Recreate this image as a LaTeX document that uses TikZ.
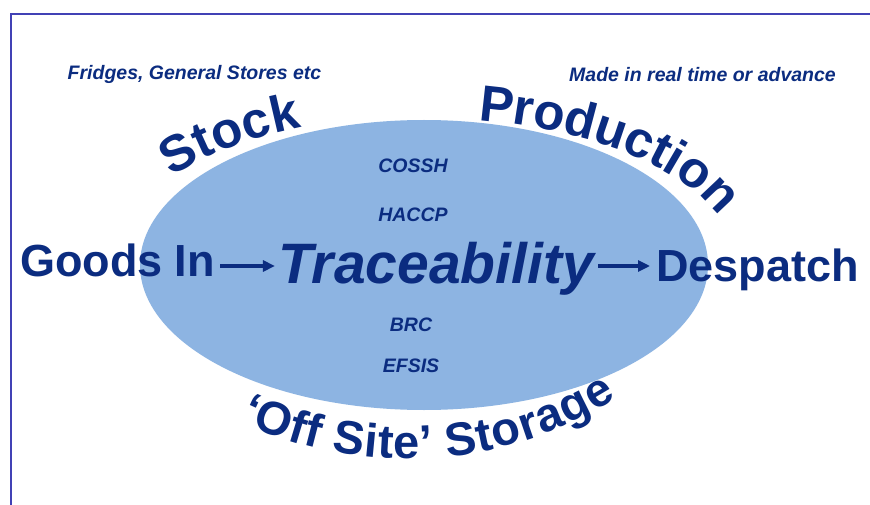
\documentclass[tikz,border=0pt]{standalone}
\usepackage{fontspec}
\setmainfont{Liberation Sans}
\usetikzlibrary{decorations.text,arrows.meta}
\definecolor{navy}{HTML}{0B2C80}
\definecolor{ellfill}{HTML}{8DB4E2}
\definecolor{framecol}{HTML}{4141B5}
\begin{document}
\begin{tikzpicture}[x=1pt,y=1pt,
  lbl/.style={inner sep=0pt,text=navy,font=\bfseries\itshape\fontsize{19.5}{21}\selectfont},
  big/.style={inner sep=0pt,text=navy,font=\bfseries\fontsize{45}{50}\selectfont},
  arr/.style={draw=navy,line width=3.4pt,-{Triangle[length=12pt,width=11pt]}},
  curved/.style 2 args={decorate,decoration={text effects along path,text={#2},
     text effects/.cd, text along path, fit text to path,
     characters={inner sep=0pt,anchor=base,text=navy,font=\bfseries\fontsize{#1}{#1}\selectfont}}}]
\useasboundingbox (0,0) rectangle (870,-505);
\fill[white] (0,0) rectangle (870,-505);
\draw[framecol,line width=2pt] (11,-505) -- (11,-14) -- (870,-14);
\fill[ellfill] (424,-265) ellipse[x radius=284,y radius=145];
% side texts
\node[lbl,anchor=base] (fridges) at (194.5,-80) {Fridges, General Stores etc};
\node[lbl,anchor=base] (made) at (702.5,-82) {Made in real time or advance};
\node[lbl,anchor=base] (cossh) at (413,-173) {COSSH};
\node[lbl,anchor=base] (haccp) at (413,-222) {HACCP};
\node[lbl,anchor=base] (brc) at (411,-331) {BRC};
\node[lbl,anchor=base] (efsis) at (411,-372) {EFSIS};
% main row
\node[big,anchor=base] (goods) at (117.5,-276) {Goods In};
\node[big,anchor=base] (desp) at (757.5,-281) {Despatch};
\node[big,anchor=base,font=\bfseries\itshape\fontsize{57}{60}\selectfont] (trace) at (436,-283) {Traceability};
\coordinate (ay) at (0,-266);
\draw[arr,shorten <=5pt,shorten >=3pt] (goods.east |- ay) -- (trace.west |- ay);
\draw[arr,shorten <=4pt,shorten >=6pt] (trace.east |- ay) -- (desp.west |- ay);
% curved texts
\path[curved={51}{Stock}] ([shift={(144:312 and 150)}]424,-265) arc[start angle=144,end angle=113,x radius=312,y radius=150];
\path[curved={51}{Production}] ([shift={(80:312 and 147)}]424,-265) arc[start angle=80,end angle=19,x radius=312,y radius=147];
\path[curved={47}{‘Off Site’ Storage}] ([shift={(244.5:390)}]407,-69) arc[start angle=244.5,end angle=302.5,radius=390];
\end{tikzpicture}
\end{document}
